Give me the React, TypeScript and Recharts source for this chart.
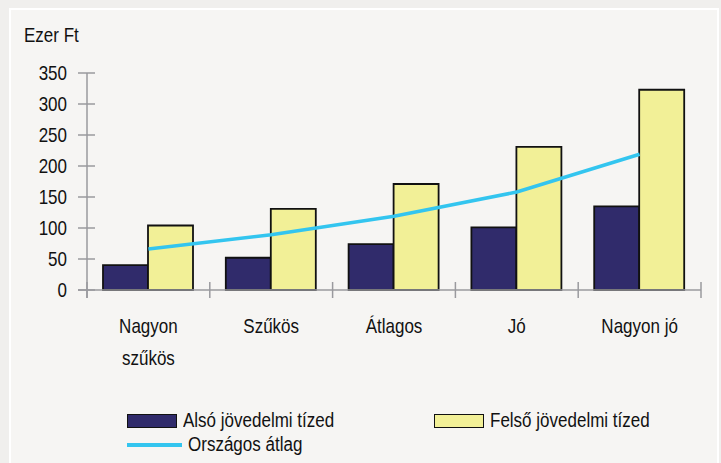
import React from 'react';
import { ComposedChart, Bar, Line, XAxis, YAxis, Legend } from 'recharts';

const categories = ['Nagyon szűkös', 'Szűkös', 'Átlagos', 'Jó', 'Nagyon jó'];
const categoryLines = [['Nagyon', 'szűkös'], ['Szűkös'], ['Átlagos'], ['Jó'], ['Nagyon jó']];
const lowerDecile = [40, 52, 74, 101, 135];
const upperDecile = [104, 131, 171, 231, 323];
const nationalAvg = [66, 89, 119, 158, 219];
const yTicks = [0, 50, 100, 150, 200, 250, 300, 350];
const seriesNames = ['Alsó jövedelmi tízed', 'Felső jövedelmi tízed', 'Országos átlag'];
const unitLabel = 'Ezer Ft';

const data = categories.map((c, i) => ({
  name: c,
  lines: categoryLines[i],
  low: lowerDecile[i],
  high: upperDecile[i],
  avg: nationalAvg[i],
}));

const W = 721;
const H = 463;
const FONT = '"Liberation Sans", Arial, sans-serif';
const FS = 20;
const SX = 0.85;
const AXIS = '#9a9a9e';
const NAVY = '#302b6b';
const YELLOW = '#f2f097';
const CYAN = '#33c5ef';
const TEXT = '#111111';

const Y_AXIS_W = 87;
const M_RIGHT = 20;
const PLOT_W = W - Y_AXIS_W - M_RIGHT;
const Y_TICK = 9;
const Y_MARGIN = 11;
const X_TICK = 8;

const NarrowText = ({ x, y, anchor, dy, children }: any) => (
  <g transform={`translate(${x},${y}) scale(${SX},1)`}>
    <text x={0} y={0} dy={dy} textAnchor={anchor} fill={TEXT} fontSize={FS} fontFamily={FONT}>
      {children}
    </text>
  </g>
);

const YTick = (props: any) => {
  const { x, y, payload } = props;
  const axisX = x + Y_TICK + Y_MARGIN;
  return (
    <g>
      <line x1={axisX - Y_TICK} x2={axisX + 8} y1={y} y2={y} stroke={AXIS} strokeWidth={1.5} />
      {payload.value === 0 && (
        <line x1={axisX} x2={axisX} y1={y} y2={y + 8} stroke={AXIS} strokeWidth={1.5} />
      )}
      <NarrowText x={x} y={y} dy="0.36em" anchor="end">
        {payload.value}
      </NarrowText>
    </g>
  );
};

const XTick = (props: any) => {
  const { x, y, payload, index, visibleTicksCount } = props;
  const count = visibleTicksCount || categories.length;
  const band = (typeof props.width === 'number' && props.width > 0 ? props.width : PLOT_W) / count;
  const axisY = y - X_TICK;
  const left = x - band / 2;
  const right = x + band / 2;
  const lines: string[] = categoryLines[index] || [payload.value];
  return (
    <g>
      <line x1={left} x2={left} y1={axisY - 8} y2={axisY + 8} stroke={AXIS} strokeWidth={1.5} />
      {index === count - 1 && (
        <line x1={right} x2={right} y1={axisY - 8} y2={axisY + 8} stroke={AXIS} strokeWidth={1.5} />
      )}
      {index === 0 && (
        <line x1={left - 9} x2={left} y1={axisY} y2={axisY} stroke={AXIS} strokeWidth={1.5} />
      )}
      {lines.map((t, i) => (
        <NarrowText key={i} x={x} y={axisY + 43 + i * 32} anchor="middle">
          {t}
        </NarrowText>
      ))}
    </g>
  );
};

const legendPos = [
  { left: 127, top: 8 },
  { left: 434, top: 8 },
  { left: 127, top: 32 },
];

const LegendContent = (props: any) => {
  const payload = props.payload || [];
  return (
    <div style={{ position: 'relative', width: W, height: 55 }}>
      {payload.map((p: any, i: number) => {
        const pos = legendPos[i] || legendPos[0];
        const isLine = p.type === 'line';
        return (
          <div
            key={i}
            style={{ position: 'absolute', left: pos.left, top: pos.top, height: 15, display: 'flex', alignItems: 'center' }}
          >
            {isLine ? (
              <div style={{ width: 55, height: 4, background: p.color }} />
            ) : (
              <div style={{ width: 48, height: 12, background: p.color, border: '1.5px solid #111' }} />
            )}
            <span
              style={{
                marginLeft: 6,
                fontFamily: FONT,
                fontSize: FS,
                color: TEXT,
                lineHeight: '15px',
                whiteSpace: 'nowrap',
                display: 'inline-block',
                transform: `scaleX(${SX})`,
                transformOrigin: 'left center',
              }}
            >
              {p.value}
            </span>
          </div>
        );
      })}
    </div>
  );
};

const UnitLabel = (props: any) => {
  const vb = props.viewBox || { x: 0, y: 73 };
  return (
    <NarrowText x={24} y={vb.y - 31} anchor="start">
      {unitLabel}
    </NarrowText>
  );
};

export default function App() {
  return (
    <div style={{ position: 'absolute', left: 0, top: 0, width: W, height: H, overflow: 'hidden', background: '#f0efed' }}>
      <div
        style={{
          position: 'absolute',
          left: 9,
          top: 8,
          width: 706,
          height: 470,
          border: '2px solid #ffffff',
          background: '#f6f5f3',
        }}
      />
      <div style={{ position: 'absolute', left: 0, top: 0 }}>
        <ComposedChart
          width={W}
          height={H}
          data={data}
          margin={{ top: 73, right: M_RIGHT, bottom: 113, left: 0 }}
          barGap={0}
        >
          <XAxis
            dataKey="name"
            height={60}
            tickSize={X_TICK}
            tickMargin={0}
            tickLine={false}
            axisLine={{ stroke: AXIS, strokeWidth: 1.5 }}
            tick={<XTick />}
            interval={0}
          />
          <YAxis
            width={Y_AXIS_W}
            domain={[0, 350]}
            ticks={yTicks}
            tickSize={Y_TICK}
            tickMargin={Y_MARGIN}
            tickLine={false}
            axisLine={{ stroke: AXIS, strokeWidth: 1.5 }}
            tick={<YTick />}
            interval={0}
            label={<UnitLabel />}
          />
          <Legend
            layout="horizontal"
            verticalAlign="middle"
            align="center"
            wrapperStyle={{ top: 405, left: 0, width: W }}
            content={<LegendContent />}
          />
          <Bar dataKey="low" name={seriesNames[0]} fill={NAVY} stroke="#111" strokeWidth={1.8} barSize={45} isAnimationActive={false} />
          <Bar dataKey="high" name={seriesNames[1]} fill={YELLOW} stroke="#111" strokeWidth={1.8} barSize={45} isAnimationActive={false} />
          <Line
            dataKey="avg"
            name={seriesNames[2]}
            type="linear"
            stroke={CYAN}
            strokeWidth={3.5}
            dot={false}
            activeDot={false}
            isAnimationActive={false}
          />
        </ComposedChart>
      </div>
    </div>
  );
}
